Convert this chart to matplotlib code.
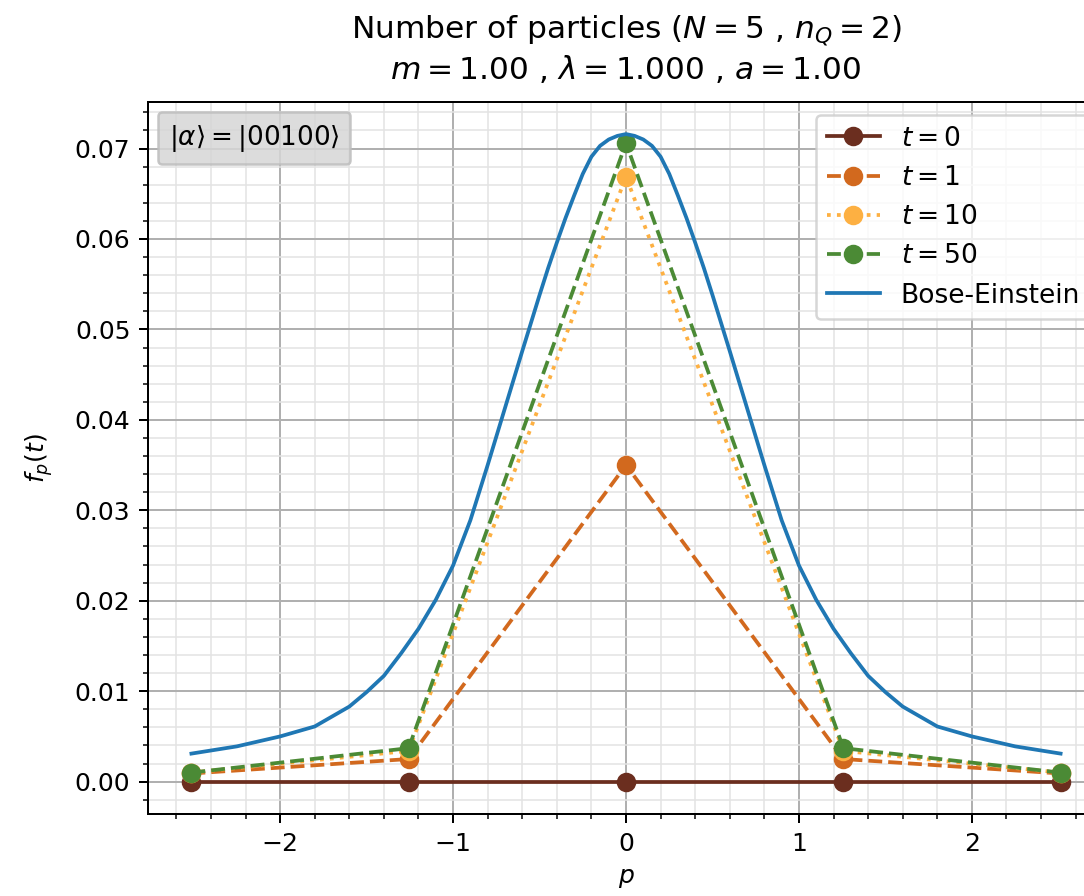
import numpy as np
import matplotlib
matplotlib.use("Agg")
import matplotlib.pyplot as plt
from matplotlib.ticker import AutoMinorLocator
from matplotlib.offsetbox import AnchoredText

# momenta of the 5-site lattice
p_vals = [-2.513, -1.257, 0.0, 1.257, 2.513]

f_t0 = [0.0, 0.0, 0.0, 0.0, 0.0]
f_t1 = [0.0009, 0.0025, 0.0350, 0.0025, 0.0009]
f_t10 = [0.0010, 0.0034, 0.0669, 0.0034, 0.0010]
f_t50 = [0.0010, 0.0037, 0.0706, 0.0037, 0.0010]

# Bose-Einstein curve
p_be = [-2.513, -2.25, -2.0, -1.8, -1.6, -1.5, -1.4, -1.3, -1.2, -1.1, -1.0,
        -0.9, -0.8, -0.7, -0.6, -0.5, -0.45, -0.4, -0.35, -0.3, -0.25, -0.2,
        -0.15, -0.1, -0.05, 0.0,
        0.05, 0.1, 0.15, 0.2, 0.25, 0.3, 0.35, 0.4, 0.45, 0.5, 0.6, 0.7, 0.8,
        0.9, 1.0, 1.1, 1.2, 1.3, 1.4, 1.5, 1.6, 1.8, 2.0, 2.25, 2.513]
f_be = [0.0031, 0.0039, 0.0050, 0.0061, 0.0083, 0.0099, 0.0117, 0.0142, 0.0169,
        0.0201, 0.0239, 0.0289, 0.0350, 0.0413, 0.0476, 0.0538, 0.0568, 0.0596,
        0.0623, 0.0648, 0.0672, 0.0691, 0.0703, 0.0710, 0.0714, 0.0716,
        0.0714, 0.0710, 0.0703, 0.0691, 0.0672, 0.0648, 0.0623, 0.0596, 0.0568,
        0.0538, 0.0476, 0.0413, 0.0350, 0.0289, 0.0239, 0.0201, 0.0169, 0.0142,
        0.0117, 0.0099, 0.0083, 0.0061, 0.0050, 0.0039, 0.0031]

series = [
    (f_t0, r'$t=0$', '#6b2e1f', '-'),
    (f_t1, r'$t=1$', '#d2691e', '--'),
    (f_t10, r'$t=10$', '#fdb042', ':'),
    (f_t50, r'$t=50$', '#4b8a35', '--'),
]

fig = plt.figure(figsize=(1084 / 180, 896 / 180), dpi=180)
ax = fig.add_axes([0.1365, 0.0915, 0.882, 0.795])

for vals, lab, col, ls in series:
    ax.plot(p_vals, vals, ls, color=col, marker='o', markersize=6.8, label=lab)
ax.plot(p_be, f_be, '-', color='#1f77b4', label='Bose-Einstein')

ax.xaxis.set_minor_locator(AutoMinorLocator(5))
ax.yaxis.set_minor_locator(AutoMinorLocator(5))
ax.grid(which='major', color='#b0b0b0', linewidth=0.8)
ax.grid(which='minor', color='#e3e3e3', linewidth=0.6)
ax.set_axisbelow(True)

ax.set_xlabel(r'$p$')
ax.set_ylabel(r'$f_p(t)$', labelpad=8)
ax.set_title('Number of particles ($N=5$ , $n_Q=2$)\n'
             r'$m=1.00$ , $\lambda=1.000$ , $a=1.00$', fontsize=12.5, pad=9)

ax.legend(loc='upper right', fontsize=10.6)

box = AnchoredText(r'$|\alpha\rangle = |00100\rangle$', loc='upper left',
                   prop=dict(size=10.5), pad=0.4, borderpad=0.4)
box.patch.set_boxstyle('round,pad=0.,rounding_size=0.15')
box.patch.set_facecolor('#d6d6d6')
box.patch.set_edgecolor('#bdbdbd')
box.patch.set_alpha(0.85)
ax.add_artist(box)

fig.savefig('out.png', dpi=180)
